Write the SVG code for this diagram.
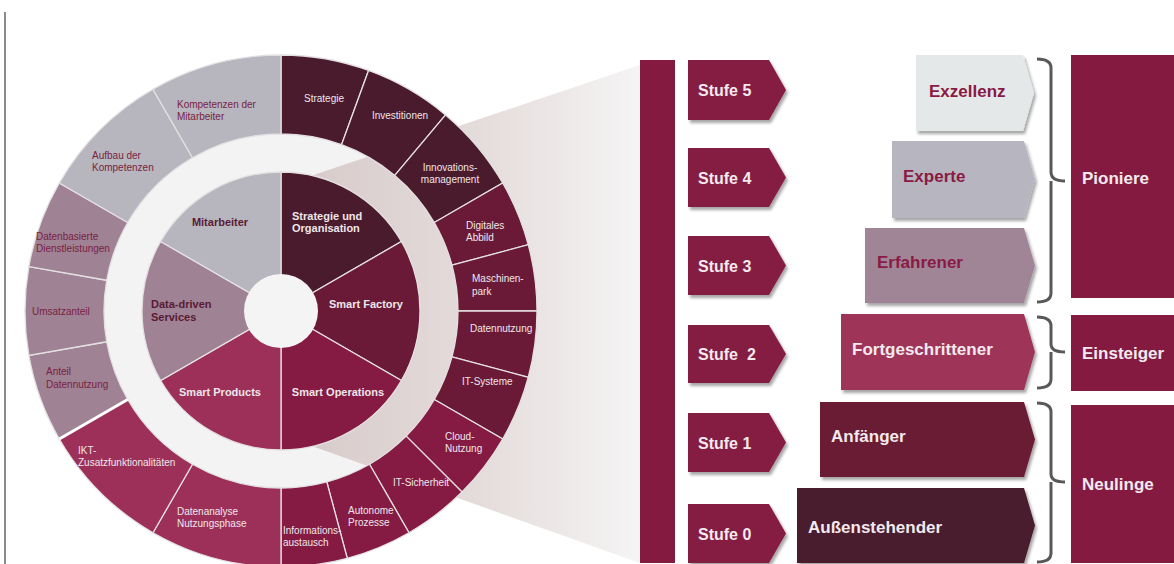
<svg xmlns="http://www.w3.org/2000/svg" width="1174" height="564" viewBox="0 0 1174 564">
<defs>
<linearGradient id="beamGrad" x1="281" y1="0" x2="640" y2="0" gradientUnits="userSpaceOnUse">
<stop offset="0" stop-color="#d6c8c8"/>
<stop offset="0.55" stop-color="#e4dcdb"/>
<stop offset="1" stop-color="#f5f4f4"/>
</linearGradient>
<filter id="sh" x="-10%" y="-10%" width="125%" height="130%">
<feDropShadow dx="2" dy="3" stdDeviation="1.8" flood-color="#000" flood-opacity="0.35"/>
</filter>
</defs>
<style>
text{font-family:"Liberation Sans",Arial,sans-serif}
.seg{stroke:#e4e0e2;stroke-width:1.3}
.o{font-size:10px}
.lt{fill:#eee6ea}
.dk{fill:#7a1f42}
.in{font-size:11px;font-weight:bold}
.st{font-size:16px;font-weight:bold;fill:#f2eaee}
.lv{font-size:17px;font-weight:bold}
.c1{fill:#4a1a2d}.c2{fill:#6a1a37}.c3{fill:#851a43}.c4{fill:#9d3058}.c5{fill:#9f8294}.c6{fill:#b7b5be}
.br{fill:none;stroke:#595959;stroke-width:3;stroke-linejoin:round}
</style>
<rect width="1174" height="564" fill="#ffffff"/>
<line x1="5" y1="12" x2="5" y2="564" stroke="#8a8a8a" stroke-width="2"/>

<!-- gap ring and beam -->
<circle cx="281" cy="311" r="177" fill="#f3f3f3"/>
<polygon id="beam" points="281,186 640,65 640,563 281,435" fill="url(#beamGrad)"/>

<!-- inner wedges -->
<g id="n-strategie-organisation"><path class="seg c1" d="M281,311 L281,172 A139,139 0 0 1 401.38,241.5 Z"/>
<text class="in lt" x="292" y="220">Strategie und</text><text class="in lt" x="292" y="232">Organisation</text></g>
<g id="n-smart-factory"><path class="seg c2" d="M281,311 L401.38,241.5 A139,139 0 0 1 401.38,380.5 Z"/>
<text class="in lt" x="366" y="308" text-anchor="middle">Smart Factory</text></g>
<g id="n-smart-operations"><path class="seg c3" d="M281,311 L401.38,380.5 A139,139 0 0 1 281,450 Z"/>
<text class="in lt" x="338" y="396" text-anchor="middle">Smart Operations</text></g>
<g id="n-smart-products"><path class="seg c4" d="M281,311 L281,450 A139,139 0 0 1 160.62,380.5 Z"/>
<text class="in lt" x="220" y="396" text-anchor="middle">Smart Products</text></g>
<g id="n-data-driven"><path class="seg c5" d="M281,311 L160.62,380.5 A139,139 0 0 1 160.62,241.5 Z"/>
<text class="in" fill="#5a1a35" x="151" y="308">Data-driven</text><text class="in" fill="#5a1a35" x="151" y="321">Services</text></g>
<g id="n-mitarbeiter"><path class="seg c6" d="M281,311 L160.62,241.5 A139,139 0 0 1 281,172 Z"/>
<text class="in" fill="#5a1a35" x="220" y="226" text-anchor="middle">Mitarbeiter</text></g>
<circle id="hole" cx="281" cy="311" r="37" fill="#f4f4f4"/>

<!-- outer ring -->
<g id="n-strategie"><path class="seg c1" d="M281,134 L281,55 A256,256 0 0 1 368.56,70.44 L341.54,144.67 A177,177 0 0 0 281,134 Z"/>
<text class="o lt" x="324" y="102" text-anchor="middle">Strategie</text></g>
<g id="n-investitionen"><path class="seg c1" d="M341.54,144.67 L368.56,70.44 A256,256 0 0 1 445.55,114.89 L394.77,175.41 A177,177 0 0 0 341.54,144.67 Z"/>
<text class="o lt" x="400" y="119" text-anchor="middle">Investitionen</text></g>
<g id="n-innovationsmanagement"><path class="seg c1" d="M394.77,175.41 L445.55,114.89 A256,256 0 0 1 502.70,183 L434.29,222.5 A177,177 0 0 0 394.77,175.41 Z"/>
<text class="o lt" x="450" y="171" text-anchor="middle">Innovations-</text><text class="o lt" x="450" y="183" text-anchor="middle">management</text></g>
<g id="n-digitales-abbild"><path class="seg c2" d="M434.29,222.5 L502.70,183 A256,256 0 0 1 528.28,244.74 L451.97,265.19 A177,177 0 0 0 434.29,222.5 Z"/>
<text class="o lt" x="466" y="229">Digitales</text><text class="o lt" x="466" y="241">Abbild</text></g>
<g id="n-maschinenpark"><path class="seg c2" d="M451.97,265.19 L528.28,244.74 A256,256 0 0 1 537,311 L458,311 A177,177 0 0 0 451.97,265.19 Z"/>
<text class="o lt" x="472" y="282">Maschinen-</text><text class="o lt" x="472" y="295">park</text></g>
<g id="n-datennutzung"><path class="seg c2" d="M458,311 L537,311 A256,256 0 0 1 528.28,377.26 L451.97,356.81 A177,177 0 0 0 458,311 Z"/>
<text class="o lt" x="470" y="332">Datennutzung</text></g>
<g id="n-it-systeme"><path class="seg c2" d="M451.97,356.81 L528.28,377.26 A256,256 0 0 1 502.70,439 L434.29,399.5 A177,177 0 0 0 451.97,356.81 Z"/>
<text class="o lt" x="462" y="385">IT-Systeme</text></g>
<g id="n-cloud-nutzung"><path class="seg c3" d="M434.29,399.5 L502.70,439 A256,256 0 0 1 462.02,492.02 L406.16,436.16 A177,177 0 0 0 434.29,399.5 Z"/>
<text class="o lt" x="445" y="440">Cloud-</text><text class="o lt" x="445" y="452">Nutzung</text></g>
<g id="n-it-sicherheit"><path class="seg c3" d="M406.16,436.16 L462.02,492.02 A256,256 0 0 1 409,532.70 L369.5,464.29 A177,177 0 0 0 406.16,436.16 Z"/>
<text class="o lt" x="393" y="486">IT-Sicherheit</text></g>
<g id="n-autonome-prozesse"><path class="seg c3" d="M369.5,464.29 L409,532.70 A256,256 0 0 1 347.26,558.28 L326.81,481.97 A177,177 0 0 0 369.5,464.29 Z"/>
<text class="o lt" x="348" y="514">Autonome</text><text class="o lt" x="348" y="526">Prozesse</text></g>
<g id="n-informationsaustausch"><path class="seg c3" d="M326.81,481.97 L347.26,558.28 A256,256 0 0 1 281,567 L281,488 A177,177 0 0 0 326.81,481.97 Z"/>
<text class="o lt" x="283" y="534">Informations-</text><text class="o lt" x="283" y="546">austausch</text></g>
<g id="n-datenanalyse"><path class="seg c4" d="M281,488 L281,567 A256,256 0 0 1 153,532.70 L192.5,464.29 A177,177 0 0 0 281,488 Z"/>
<text class="o lt" x="177" y="515">Datenanalyse</text><text class="o lt" x="177" y="527">Nutzungsphase</text></g>
<g id="n-ikt"><path class="seg c4" d="M192.5,464.29 L153,532.70 A256,256 0 0 1 59.30,439 L127.71,399.5 A177,177 0 0 0 192.5,464.29 Z"/>
<text class="o lt" x="78" y="454">IKT-</text><text class="o lt" x="78" y="466">Zusatzfunktionalitäten</text></g>
<g id="n-anteil-datennutzung"><path class="seg c5" d="M127.71,399.5 L59.30,439 A256,256 0 0 1 28.89,355.45 L106.69,341.74 A177,177 0 0 0 127.71,399.5 Z"/>
<text class="o dk" x="46" y="375">Anteil</text><text class="o dk" x="46" y="388">Datennutzung</text></g>
<g id="n-umsatzanteil"><path class="seg c5" d="M106.69,341.74 L28.89,355.45 A256,256 0 0 1 28.89,266.55 L106.69,280.26 A177,177 0 0 0 106.69,341.74 Z"/>
<text class="o dk" x="32" y="315">Umsatzanteil</text></g>
<g id="n-datenbasierte"><path class="seg c5" d="M106.69,280.26 L28.89,266.55 A256,256 0 0 1 59.30,183 L127.71,222.5 A177,177 0 0 0 106.69,280.26 Z"/>
<text class="o dk" x="36" y="240">Datenbasierte</text><text class="o dk" x="36" y="252">Dienstleistungen</text></g>
<g id="n-aufbau"><path class="seg c6" d="M127.71,222.5 L59.30,183 A256,256 0 0 1 153,89.30 L192.5,157.71 A177,177 0 0 0 127.71,222.5 Z"/>
<text class="o dk" x="92" y="159">Aufbau der</text><text class="o dk" x="92" y="171">Kompetenzen</text></g>
<g id="n-kompetenzen"><path class="seg c6" d="M192.5,157.71 L153,89.30 A256,256 0 0 1 281,55 L281,134 A177,177 0 0 0 192.5,157.71 Z"/>
<text class="o dk" x="177" y="108">Kompetenzen der</text><text class="o dk" x="177" y="120">Mitarbeiter</text></g>
<path d="M127.71,399.5 L59.30,439" stroke="#ffffff" stroke-width="3"/>

<!-- vertical bar -->
<rect id="bar" x="640" y="60" width="35" height="503" fill="#851a41"/>

<!-- Stufe arrows -->
<g id="n-stufe5"><polygon filter="url(#sh)" class="c3" points="688,60 769,60 786,90 769,120 688,120"/><text class="st" x="698" y="96">Stufe 5</text></g>
<g id="n-stufe4"><polygon filter="url(#sh)" class="c3" points="688,148 769,148 786,177.5 769,207 688,207"/><text class="st" x="698" y="183.5">Stufe 4</text></g>
<g id="n-stufe3"><polygon filter="url(#sh)" class="c3" points="688,236 769,236 786,265.5 769,295 688,295"/><text class="st" x="698" y="271.5">Stufe 3</text></g>
<g id="n-stufe2"><polygon filter="url(#sh)" class="c3" points="688,325 769,325 786,354 769,383 688,383"/><text class="st" x="698" y="360" xml:space="preserve">Stufe  2</text></g>
<g id="n-stufe1"><polygon filter="url(#sh)" class="c3" points="688,413 769,413 786,442.5 769,472 688,472"/><text class="st" x="698" y="448.5">Stufe 1</text></g>
<g id="n-stufe0"><polygon filter="url(#sh)" class="c3" points="688,504 769,504 786,533.5 769,563 688,563"/><text class="st" x="698" y="539.5">Stufe 0</text></g>

<!-- levels -->
<g id="n-exzellenz"><polygon filter="url(#sh)" fill="#e5e8e9" points="916,55 1023,55 1034,93 1023,131 916,131"/><text class="lv" fill="#8a1a44" x="929" y="97">Exzellenz</text></g>
<g id="n-experte"><polygon filter="url(#sh)" fill="#b7b6c0" points="892,141 1024,141 1035,179.5 1024,218 892,218"/><text class="lv" fill="#8a1a44" x="903" y="182">Experte</text></g>
<g id="n-erfahrener"><polygon filter="url(#sh)" fill="#a08597" points="865,228 1024,228 1035,265.5 1024,303 865,303"/><text class="lv" fill="#8a1a44" x="877" y="268">Erfahrener</text></g>
<g id="n-fortgeschrittener"><polygon filter="url(#sh)" fill="#9e3459" points="841,314 1024,314 1035,352 1024,390 841,390"/><text class="lv" fill="#f2eaee" x="852" y="355">Fortgeschrittener</text></g>
<g id="n-anfaenger"><polygon filter="url(#sh)" fill="#6a1a36" points="820,402 1024,402 1035,439.5 1024,477 820,477"/><text class="lv" fill="#f2eaee" x="831" y="442">Anfänger</text></g>
<g id="n-aussenstehender"><polygon filter="url(#sh)" fill="#4a1a2e" points="797,488 1024,488 1035,525.5 1024,563 797,563"/><text class="lv" fill="#f2eaee" x="808" y="533">Außenstehender</text></g>

<!-- connectors (brackets) -->
<g id="connectors">
<path class="br" d="M1037,59 Q1051,59 1051,68 V172 Q1051,181 1065,181 M1051,181 Q1051,190 1051,192 V293 Q1051,302 1037,302"/>
<path class="br" d="M1037,317 Q1051,317 1051,326 V344 Q1051,352 1065,352 M1051,352 V379 Q1051,388 1037,388"/>
<path class="br" d="M1037,403 Q1051,403 1051,412 V474 Q1051,482 1065,482 M1051,482 V553 Q1051,562 1037,562"/>
</g>

<!-- groups -->
<g id="n-pioniere"><rect x="1071" y="55" width="103" height="243" fill="#851a41"/><text class="lv" fill="#f2eaee" x="1082" y="184">Pioniere</text></g>
<g id="n-einsteiger"><rect x="1071" y="315" width="103" height="76" fill="#851a41"/><text class="lv" fill="#f2eaee" x="1082" y="359">Einsteiger</text></g>
<g id="n-neulinge"><rect x="1071" y="405" width="103" height="158" fill="#851a41"/><text class="lv" fill="#f2eaee" x="1082" y="490">Neulinge</text></g>
</svg>
